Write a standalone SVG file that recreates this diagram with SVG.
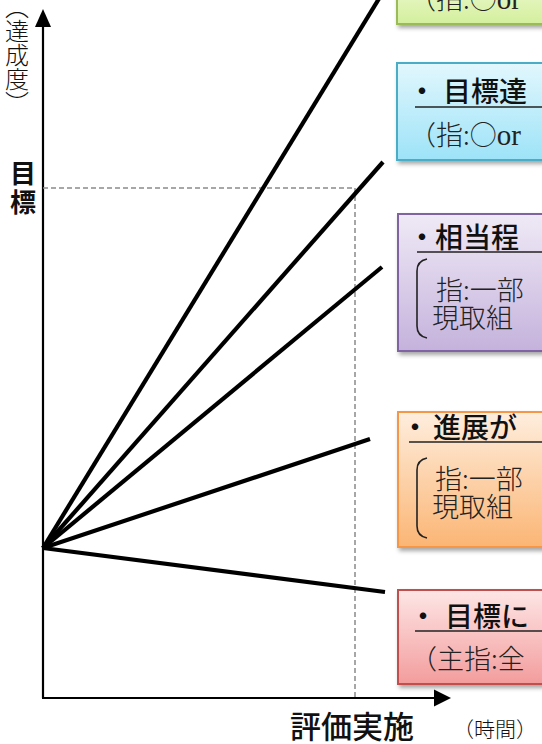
<svg xmlns="http://www.w3.org/2000/svg" width="542" height="744" viewBox="0 0 542 744">
<defs>
<style>
.ax{stroke:#000;stroke-width:2.2;fill:none}
.dash{stroke:#8a8a8a;stroke-width:1.5;stroke-dasharray:5 3;fill:none}
.ln{stroke:#000;stroke-width:4.2;stroke-linecap:butt;fill:none}
.bx{stroke-width:2;filter:url(#sh)}
.ul{stroke:#222;stroke-width:1.6}
.br{stroke:#222;stroke-width:1.6;fill:none}
.h{font-family:"Noto Sans CJK JP","Noto Sans",sans-serif;font-size:28px;fill:#111;font-weight:500}
.m{font-family:"Noto Sans CJK JP","Noto Sans",sans-serif;font-size:27px;fill:#222;font-weight:300}
.lt{font-family:"Liberation Serif",serif;font-size:29px;font-weight:normal}
.lab{font-family:"Noto Sans CJK JP","Noto Sans",sans-serif;fill:#111}
</style>
<filter id="sh" x="-10%" y="-10%" width="130%" height="140%">
<feDropShadow dx="2" dy="3" stdDeviation="2" flood-color="#000" flood-opacity="0.35"/>
</filter>
<linearGradient id="gG" x1="0" y1="0" x2="0" y2="1"><stop offset="0" stop-color="#eef9d2"/><stop offset="1" stop-color="#d3ef9c"/></linearGradient>
<linearGradient id="gB" x1="0" y1="0" x2="0" y2="1"><stop offset="0" stop-color="#e2f7fd"/><stop offset="1" stop-color="#9de3f8"/></linearGradient>
<linearGradient id="gP" x1="0" y1="0" x2="0" y2="1"><stop offset="0" stop-color="#efeaf6"/><stop offset="1" stop-color="#c5b2dc"/></linearGradient>
<linearGradient id="gO" x1="0" y1="0" x2="0" y2="1"><stop offset="0" stop-color="#feeede"/><stop offset="1" stop-color="#fbb574"/></linearGradient>
<linearGradient id="gR" x1="0" y1="0" x2="0" y2="1"><stop offset="0" stop-color="#fee6e6"/><stop offset="1" stop-color="#f39c9c"/></linearGradient>
</defs>
<rect width="542" height="744" fill="#fff"/>

<g id="axes">
<line class="ax" x1="43" y1="698" x2="43" y2="24"/>
<polygon points="43,9 35,27 51,27" fill="#000"/>
<line class="ax" x1="42" y1="698" x2="436" y2="698"/>
<polygon points="451,698 434,689.5 434,706.5" fill="#000"/>
<text class="lab" x="17" y="-5" font-size="24" font-weight="300" style="writing-mode:vertical-rl">（達成度）</text>
<text class="lab" x="23" y="183" font-size="26" font-weight="bold" text-anchor="middle">目</text>
<text class="lab" x="23" y="212" font-size="26" font-weight="bold" text-anchor="middle">標</text>
<text class="lab" x="290" y="738" font-size="31" font-weight="500">評価実施</text>
<text class="lab" x="453" y="737" font-size="21" font-weight="300">（時間）</text>
</g>

<g id="guides">
<polyline class="dash" points="43,188 355,188 355,698"/>
</g>

<g id="connectors">
<line class="ln" x1="43" y1="548" x2="380" y2="-3"/>
<line class="ln" x1="43" y1="548" x2="383" y2="162"/>
<line class="ln" x1="43" y1="548" x2="382" y2="267"/>
<line class="ln" x1="43" y1="548" x2="370" y2="439"/>
<line class="ln" x1="43" y1="548" x2="385" y2="592"/>
</g>

<g id="box-green">
<rect class="bx" x="397" y="-20" width="170" height="44" fill="url(#gG)" stroke="#9bbb59"/>
<text class="m" x="409" y="9">（指:○<tspan class="lt">or</tspan></text>
</g>

<g id="box-blue">
<rect class="bx" x="397" y="63" width="170" height="97" fill="url(#gB)" stroke="#4bacc6"/>
<text class="h" y="102"><tspan x="408">・</tspan><tspan x="443">目標達</tspan></text>
<line class="ul" x1="415" y1="107" x2="542" y2="107"/>
<text class="m" x="409" y="145">（指:○<tspan class="lt">or</tspan></text>
</g>

<g id="box-purple">
<rect class="bx" x="398" y="214" width="170" height="137" fill="url(#gP)" stroke="#8064a2"/>
<text class="h" y="248"><tspan x="408">・</tspan><tspan x="435">相当程</tspan></text>
<line class="ul" x1="417" y1="252" x2="542" y2="252"/>
<path class="br" d="M427,259 Q417,261 417,271 L417,326 Q417,336 427,338"/>
<text class="m" x="436" y="300">指:一部</text>
<text class="m" x="432" y="328">現取組</text>
</g>

<g id="box-orange">
<rect class="bx" x="398" y="412" width="170" height="135" fill="url(#gO)" stroke="#f79646"/>
<text class="h" y="438"><tspan x="401">・</tspan><tspan x="433">進展が</tspan></text>
<line class="ul" x1="409" y1="442" x2="542" y2="442"/>
<path class="br" d="M427,458 Q417,460 417,470 L417,526 Q417,536 427,538"/>
<text class="m" x="435" y="489">指:一部</text>
<text class="m" x="432" y="517">現取組</text>
</g>

<g id="box-red">
<rect class="bx" x="398" y="590" width="170" height="94" fill="url(#gR)" stroke="#c0504d"/>
<text class="h" y="627"><tspan x="409">・</tspan><tspan x="445">目標に</tspan></text>
<line class="ul" x1="415" y1="631" x2="542" y2="631"/>
<text class="m" x="410" y="669">（主指:全</text>
</g>
</svg>
